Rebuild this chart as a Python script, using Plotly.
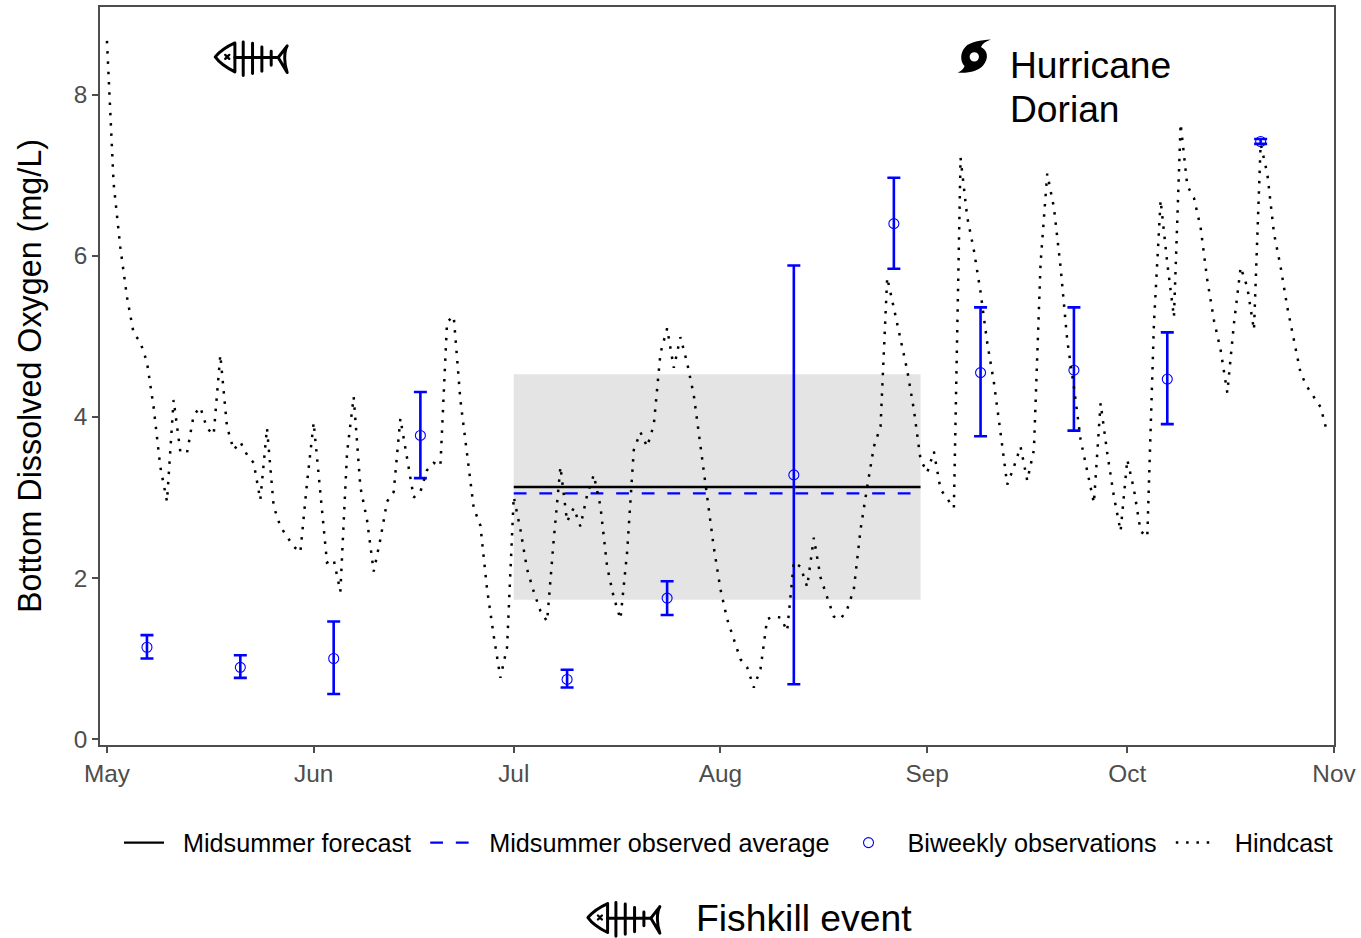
import base64
from datetime import date, timedelta
import plotly.graph_objects as go

START = date(2019, 5, 1)

hindcast_values = [
    8.67, 6.90, 6.11, 5.49, 5.04, 4.93, 4.68, 4.12, 3.38, 2.95, 4.21, 3.57, 3.55, 4.02, 4.12, 3.86,
    3.78, 4.77, 3.88, 3.59, 3.69, 3.53, 3.43, 2.97, 3.86, 2.89, 2.64, 2.51, 2.39, 2.32, 3.18, 3.93,
    3.06, 2.19, 2.23, 1.83, 3.55, 4.25, 3.13, 2.72, 2.08, 2.48, 2.95, 3.07, 3.98, 3.47, 3.00, 3.07,
    3.34, 3.43, 3.39, 5.18, 5.25, 4.21, 3.55, 2.87, 2.65, 1.86, 1.28, 0.76, 1.14, 3.01,
    2.60, 2.11, 1.83, 1.59, 1.46, 2.48, 3.38, 2.70, 2.87, 2.64, 3.03, 3.28, 2.89, 2.14, 1.76, 1.49,
    2.32, 3.59, 3.81, 3.63, 3.90, 4.79, 5.10, 4.61, 4.99, 4.67, 4.27, 3.63, 3.01, 2.38, 1.86, 1.49,
    1.24, 0.99, 0.89, 0.64, 0.87, 1.49, 1.52, 1.51, 1.34, 2.20, 2.14, 1.89, 2.50, 2.01, 1.76, 1.52,
    1.49, 1.61, 1.86, 2.60, 3.13, 3.63, 3.88, 5.73, 5.35, 4.95, 4.58, 4.09, 3.47,
    3.31, 3.57, 3.10, 2.98, 2.87, 7.22, 6.48, 6.07, 5.55, 4.92, 4.43, 3.80, 3.16, 3.38, 3.63, 3.21,
    3.59, 5.91, 7.02, 6.60, 5.86, 4.95, 4.37, 3.72, 3.31, 2.93, 4.17, 3.55, 3.01, 2.58, 3.47, 3.10,
    2.58, 2.51, 5.16, 6.69, 5.91, 5.24, 7.64, 6.87, 6.72, 6.35, 5.70, 5.20, 4.83, 4.30, 5.16, 5.86,
    5.61, 5.08, 7.39, 7.02, 6.28, 5.86, 5.36, 4.95, 4.54, 4.37, 4.25, 4.12, 3.80,
]
hindcast_dates = [(START + timedelta(days=i)).isoformat() for i in range(len(hindcast_values))]

obs_dates = ["2019-05-07", "2019-05-21", "2019-06-04", "2019-06-17", "2019-07-09", "2019-07-24",
             "2019-08-12", "2019-08-27", "2019-09-09", "2019-09-23", "2019-10-07", "2019-10-21"]
obs_values = [1.14, 0.89, 1.00, 3.77, 0.74, 1.75, 3.28, 6.40, 4.55, 4.58, 4.47, 7.42]
obs_upper = [1.29, 1.04, 1.46, 4.31, 0.86, 1.96, 5.88, 6.97, 5.36, 5.36, 5.05, 7.45]
obs_lower = [1.00, 0.76, 0.56, 3.24, 0.64, 1.54, 0.68, 5.84, 3.76, 3.83, 3.91, 7.39]

midsummer_dates = ["2019-07-01", "2019-08-31"]
forecast_mean = [3.13, 3.13]
observed_mean = [3.05, 3.05]
forecast_low, forecast_high = 1.73, 4.53

month_ticks = ["2019-05-01", "2019-06-01", "2019-07-01", "2019-08-01", "2019-09-01", "2019-10-01", "2019-11-01"]
month_labels = ["May", "Jun", "Jul", "Aug", "Sep", "Oct", "Nov"]

FONT = "Liberation Sans"
W, H = 1361, 938
L, R, T, B = 100, 1335, 5, 745


def px(x):
    return (x - L) / (R - L)


def py(y):
    return (B - y) / (B - T)


FISH = """<svg xmlns='http://www.w3.org/2000/svg' width='300' height='150' viewBox='0 0 300 150'>
<g fill='none' stroke='black' stroke-width='9' stroke-linecap='round' stroke-linejoin='round'>
<path d='M105 33 C85 42 60 58 46 75 C60 95 85 110 105 120 Z'/>
<path d='M105 77 H235'/>
<path d='M130 30 V131 M158 34 V125 M186 45 V118 M214 58 V100'/>
<path d='M235 77 L262 42 C252 60 252 95 262 122 Z'/>
<path d='M76 69 L88 81 M88 69 L76 81' stroke-width='7'/>
</g></svg>"""

STORM = """<svg xmlns='http://www.w3.org/2000/svg' width='300' height='210' viewBox='0 0 300 210'>
<path fill-rule='evenodd' fill='black' d='M155 53 C125 55 92 60 78 75 C62 92 62 118 76 133 C72 142 65 148 55 152
C85 155 118 148 132 130 C150 108 145 85 125 75 C130 65 140 58 155 53 Z
M105 91 A14 14 0 1 0 105 119 A14 14 0 1 0 105 91 Z'/></svg>"""


def uri(svg):
    return "data:image/svg+xml;base64," + base64.b64encode(svg.encode()).decode()


def image(svg, x, y, w, h):
    return dict(source=uri(svg), xref="paper", yref="paper", x=px(x), y=py(y),
                sizex=w / (R - L), sizey=h / (B - T), xanchor="left", yanchor="top",
                sizing="stretch", layer="above")


PRE, POST = "\u00a0\u00a0", "\u00a0\u200a"
fig = go.Figure()
fig.add_trace(go.Scatter(x=midsummer_dates, y=forecast_mean, mode="lines", name=PRE + "Midsummer forecast" + POST,
                         line=dict(color="black", width=2.4)))
fig.add_trace(go.Scatter(x=midsummer_dates, y=observed_mean, mode="lines", name=PRE + "Midsummer observed average" + POST,
                         line=dict(color="#0000FF", width=2.4, dash="12.8px,12.8px")))
fig.add_trace(go.Scatter(x=obs_dates, y=obs_values, mode="markers", name=PRE + "Biweekly observations" + POST,
                         marker=dict(symbol="circle-open", size=10, color="#0000FF", line=dict(width=1.1, color="#0000FF")),
                         error_y=dict(type="data", symmetric=False,
                                      array=[u - v for u, v in zip(obs_upper, obs_values)],
                                      arrayminus=[v - l for v, l in zip(obs_values, obs_lower)],
                                      color="#0000FF", thickness=2.6, width=6.5)))
fig.add_trace(go.Scatter(x=hindcast_dates, y=hindcast_values, mode="lines", name=PRE + "Hindcast",
                         line=dict(color="black", width=2.5, dash="2.5px,7.8px")))

fig.update_layout(
    width=W, height=H, autosize=False,
    margin=dict(l=L, r=W - R, t=T, b=H - B, pad=0),
    paper_bgcolor="white", plot_bgcolor="white",
    font=dict(family=FONT, color="black"),
    xaxis=dict(type="date", range=["2019-04-29T23:00", "2019-11-01"], tickvals=month_ticks, ticktext=month_labels,
               showgrid=False, zeroline=False, ticks="outside", ticklen=6, tickwidth=1.5, tickcolor="#4d4d4d",
               showline=True, linecolor="#4d4d4d", linewidth=1.5, mirror=True,
               tickfont=dict(family=FONT, size=24.4, color="#4d4d4d")),
    yaxis=dict(range=[-0.074, 9.09], tickvals=[0, 2, 4, 6, 8], showgrid=False, zeroline=False,
               ticks="outside", ticklen=6, tickwidth=1.5, tickcolor="#4d4d4d",
               showline=True, linecolor="#4d4d4d", linewidth=1.5, mirror=True,
               tickfont=dict(family=FONT, size=24.4, color="#4d4d4d"),
               title=dict(text="Bottom Dissolved Oxygen (mg/L)", font=dict(family=FONT, size=32.3, color="black"), standoff=22)),
    legend=dict(orientation="h", x=px(119), y=py(843), xanchor="left", yanchor="middle", itemwidth=40,
                font=dict(family=FONT, size=25.2, color="black"), bgcolor="rgba(0,0,0,0)", traceorder="normal",
                itemclick=False, itemdoubleclick=False),
    shapes=[dict(type="rect", xref="x", yref="y", x0=midsummer_dates[0], x1=midsummer_dates[1],
                 y0=forecast_low, y1=forecast_high, fillcolor="#E4E4E4", line=dict(width=0), layer="below")],
    annotations=[
        dict(text="Hurricane", xref="paper", yref="paper", x=px(1009), y=py(63), xanchor="left", yanchor="middle",
             showarrow=False, font=dict(family=FONT, size=37.2, color="black")),
        dict(text="Dorian", xref="paper", yref="paper", x=px(1009), y=py(107), xanchor="left", yanchor="middle",
             showarrow=False, font=dict(family=FONT, size=37.2, color="black")),
        dict(text="Fishkill event", xref="paper", yref="paper", x=px(694), y=py(918), xanchor="left", yanchor="middle",
             showarrow=False, font=dict(family=FONT, size=37.3, color="black")),
    ],
    images=[image(FISH, 200, 30, 100, 50), image(FISH, 573, 893, 100, 50), image(STORM, 940, 20, 100, 70)],
)

fig.write_html("out.html", config=dict(displayModeBar=False, responsive=False),
               post_script="document.body.style.margin='0';document.documentElement.style.overflow='hidden';")
